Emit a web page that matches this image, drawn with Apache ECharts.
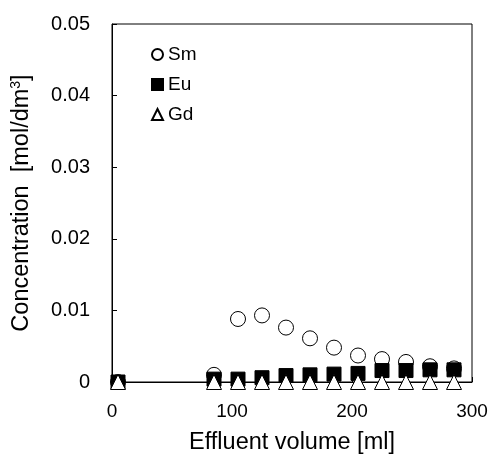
<!DOCTYPE html>
<html><head><meta charset="utf-8">
<script src="https://cdn.jsdelivr.net/npm/echarts@6/dist/echarts.min.js"></script>
<style>html,body{margin:0;padding:0;background:#fff}#c{width:489px;height:455px}</style>
</head><body><div id="c"></div>
<script>
const volume = [5, 85, 105, 125, 145, 165, 185, 205, 225, 245, 265, 285];
const sm = [0, 0.001, 0.0088, 0.0093, 0.0076, 0.0061, 0.0048, 0.0037, 0.0032, 0.0028, 0.0022, 0.0019];
const eu = [0, 0.0004, 0.0004, 0.0006, 0.0009, 0.001, 0.0011, 0.0012, 0.0016, 0.0016, 0.0017, 0.0017];
const gd = [0, 0, 0, 0, 0, 0, 0, 0, 0, 0, 0, 0];
const xTicks = [0, 100, 200, 300];
const yTicks = [0, 0.01, 0.02, 0.03, 0.04, 0.05];

const pair = a => volume.map((v, i) => [v, a[i]]);
const font = 'Liberation Sans, Arial, sans-serif';
const chart = echarts.init(document.getElementById('c'));
chart.setOption({
  animation: false,
  grid: {left: 112, top: 24, right: 17, bottom: 73, show: true, borderColor: '#000', borderWidth: 1,
    containLabel: false, outerBoundsMode: 'none'},
  legend: {
    orient: 'vertical', left: 146, top: 40, itemWidth: 11, itemHeight: 11, itemGap: 11,
    textStyle: {fontFamily: font, fontSize: 19, color: '#000'},
    data: ['Sm', 'Eu', 'Gd']
  },
  xAxis: {
    type: 'value', min: xTicks[0], max: xTicks[xTicks.length - 1], interval: 100,
    axisLine: {lineStyle: {color: '#000'}},
    axisTick: {show: true, inside: true, length: 5, lineStyle: {color: '#000'}},
    splitLine: {show: false},
    axisLabel: {fontFamily: font, fontSize: 19, color: '#000', margin: 20},
    name: 'Effluent volume [ml]', nameLocation: 'middle', nameGap: 49,
    nameTextStyle: {fontFamily: font, fontSize: 23.5, color: '#000'}
  },
  yAxis: {
    type: 'value', min: yTicks[0], max: yTicks[yTicks.length - 1], interval: 0.01,
    axisLine: {lineStyle: {color: '#000'}},
    axisTick: {show: true, inside: true, length: 5, lineStyle: {color: '#000'}},
    splitLine: {show: false},
    axisLabel: {fontFamily: font, fontSize: 20, color: '#000', margin: 22,
      formatter: v => v === 0 ? '0' : v.toFixed(2)},
    name: 'Concentration  [mol/dm{sup|3}]', nameLocation: 'middle', nameGap: 77, nameRotate: 90,
    nameTextStyle: {fontFamily: font, fontSize: 23.5, color: '#000',
      rich: {sup: {fontFamily: font, fontSize: 14, color: '#000', verticalAlign: 'top', padding: [0, 0, 12, 0]}}}
  },
  series: [
    {name: 'Sm', type: 'scatter', symbol: 'circle', symbolSize: 15, data: pair(sm),
      itemStyle: {color: '#fff', borderColor: '#000', borderWidth: 1, opacity: 1}},
    {name: 'Eu', type: 'scatter', symbol: 'rect', symbolSize: 14, data: pair(eu),
      itemStyle: {color: '#000', borderColor: '#000', borderWidth: 1, opacity: 1}},
    {name: 'Gd', type: 'scatter', symbol: 'triangle', symbolSize: 15, data: pair(gd),
      itemStyle: {color: '#fff', borderColor: '#000', borderWidth: 1, opacity: 1}}
  ]
});
</script></body></html>
